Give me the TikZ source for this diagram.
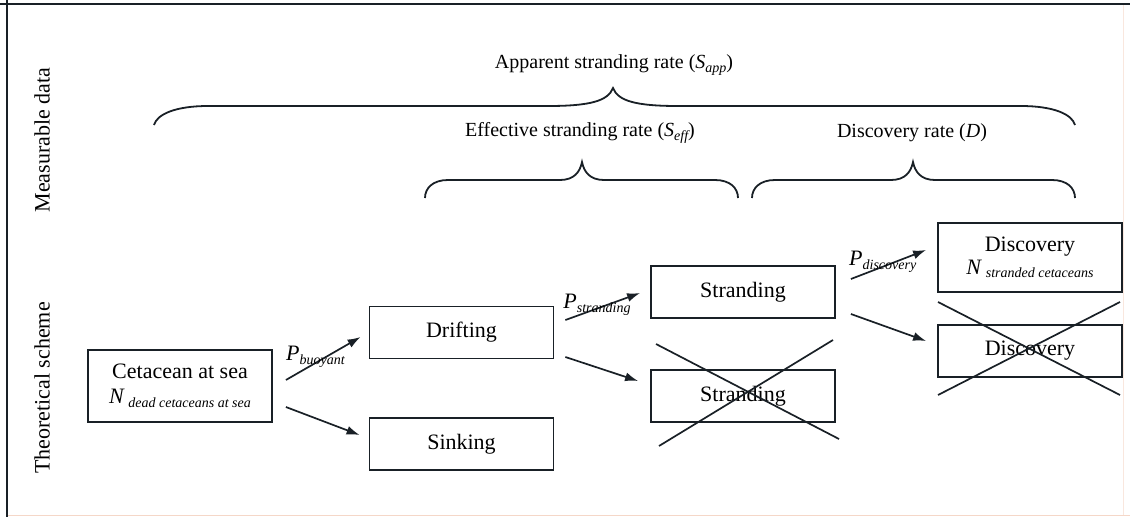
\documentclass[tikz,border=0pt]{standalone}
\usepackage{fontspec}
\setmainfont{Liberation Serif}
\usetikzlibrary{arrows.meta,calc}
\definecolor{ink}{RGB}{25,32,38}
\definecolor{faint}{RGB}{245,215,200}
\newcommand\sbs[1]{\raisebox{-0.35ex}{\fontsize{14}{14}\selectfont\itshape #1}}
\begin{document}
\begin{tikzpicture}[x=1pt,y=-1pt,
  every node/.style={font=\fontsize{20}{24}\selectfont, text=black},
  big/.style={font=\fontsize{22}{26}\selectfont},
  box/.style={draw=ink, line width=1.8pt, inner sep=0pt, minimum width=184pt, minimum height=52pt, align=center, big},
  arr/.style={draw=ink, line width=1.7pt, -{Latex[length=13pt,width=9pt]}},
  brace/.style={draw=ink, line width=1.8pt},
  cross/.style={draw=ink, line width=1.7pt},
  plabel/.style={inner sep=0pt, big}]
\useasboundingbox (0,0) rectangle (1130,517);
% frame
\draw[faint, line width=1pt] (7,515) -- (1130,515);
\draw[faint!60, line width=0.8pt] (1123,4) -- (1123,515);
\draw[ink, line width=1.6pt] (0,4) -- (1130,4);
\draw[ink, line width=1.6pt] (7,0) -- (7,517);

% side labels
\node[rotate=90, big] (meas) at (42,140) {Measurable data};
\node[rotate=90, big] (theo) at (42,388) {Theoretical scheme};

% measurable data labels
\node (app) at (614,65) {Apparent stranding rate (\textit{S}\sbs{app})};
\node (eff) at (580,133) {Effective stranding rate (\textit{S}\sbs{eff})};
\node (disc) at (912,133) {Discovery rate (\textit{D})};

% braces
\draw[brace] (154,125) .. controls (157,114) and (176,106) .. (208,106)
  -- (548,106) .. controls (590,106) and (608,101) .. (613,88)
  .. controls (618,101) and (636,106) .. (678,106)
  -- (1021,106) .. controls (1053,106) and (1072,114) .. (1075,125);
\draw[brace] (425,198) .. controls (425,188) and (433,180) .. (448,180)
  -- (560,180) .. controls (574,180) and (580,172) .. (582,162)
  .. controls (584,172) and (590,180) .. (604,180)
  -- (715,180) .. controls (730,180) and (738,188) .. (738,198);
\draw[brace] (752,198) .. controls (752,188) and (760,180) .. (775,180)
  -- (891,180) .. controls (905,180) and (911,172) .. (913,162)
  .. controls (915,172) and (921,180) .. (935,180)
  -- (1052,180) .. controls (1067,180) and (1075,188) .. (1075,198);

% boxes
\node[box, minimum height=72pt] (cet) at (180,386)
  {Cetacean at sea\\[-1pt]\textit{N}\,\sbs{dead cetaceans at sea}};
\node[box] (drift) at (461.5,332.5) {Drifting};
\node[box] (sink) at (461.5,444) {Sinking};
\node[box] (str1) at (743,292) {Stranding};
\node[box] (str2) at (743,396) {Stranding};
\node[box, minimum height=69pt] (dis1) at (1030,257.5)
  {Discovery\\[-3pt]\textit{N}\,\sbs{stranded cetaceans}};
\node[box] (dis2) at (1030,351) {Discovery};

% crosses
\draw[cross] ([shift={(-87,-52)}]str2.center) -- ([shift={(96,43)}]str2.center);
\draw[cross] ([shift={(-84,50)}]str2.center) -- ([shift={(90,-56)}]str2.center);
\draw[cross] ([shift={(-92,-49)}]dis2.center) -- ([shift={(90,44)}]dis2.center);
\draw[cross] ([shift={(-92,44)}]dis2.center) -- ([shift={(90,-49)}]dis2.center);

% arrows
\draw[arr] ([shift={(13,-6)}]cet.east) -- ([shift={(-8,4.5)}]drift.west)
  node[plabel, pos=0.45, xshift=-4pt, yshift=4pt] (pb) {\textit{P}\sbs{buoyant}};
\draw[arr] ([shift={(13,21)}]cet.east) -- ([shift={(-9,-9)}]sink.west);
\draw[arr] ([shift={(11,-12.5)}]drift.east) -- ([shift={(-10,1)}]str1.west)
  node[plabel, pos=0.45, xshift=-2pt, yshift=3pt] (ps) {\textit{P}\sbs{stranding}};
\draw[arr] ([shift={(11,24.5)}]drift.east) -- ([shift={(-12,-15)}]str2.west);
\draw[arr] ([shift={(15,-13)}]str1.east) -- ([shift={(-11,-7.5)}]dis1.west)
  node[plabel, pos=0.45, xshift=-2pt, yshift=4pt] (pd) {\textit{P}\sbs{discovery}};
\draw[arr] ([shift={(15,22)}]str1.east) -- ([shift={(-11,-10)}]dis2.west);
\end{tikzpicture}
\end{document}
